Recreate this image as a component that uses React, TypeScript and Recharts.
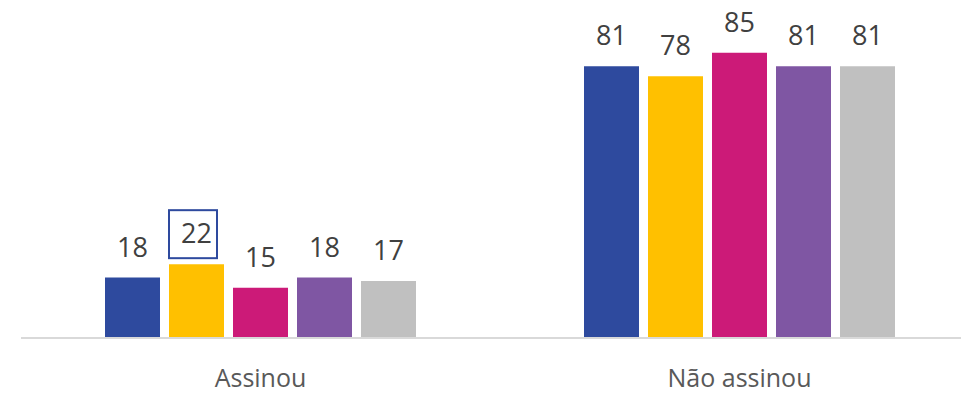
import { BarChart, Bar, XAxis, YAxis, LabelList } from 'recharts';

const categories = ['Assinou', 'Não assinou'];
const serie1 = [18, 81];
const serie2 = [22, 78];
const serie3 = [15, 85];
const serie4 = [18, 81];
const serie5 = [17, 81];

const seriesKeys = ['s1', 's2', 's3', 's4', 's5'];
const seriesValues = [serie1, serie2, serie3, serie4, serie5];
const colors = ['#2E4A9E', '#FFC000', '#CC1A78', '#7F56A3', '#C0C0C0'];

// label that gets the blue box around it
const highlight = { key: 's2', index: 0 };

const data = categories.map((name, i) => {
  const row: Record<string, string | number> = { name };
  seriesKeys.forEach((k, j) => { row[k] = seriesValues[j][i]; });
  return row;
});

const FONT = '"Open Sans", "Noto Sans", sans-serif';

function makeLabel(key: string) {
  return (props: any) => {
    const { x, y, width, value, index } = props;
    const cx = Number(x) + Number(width) / 2;
    const top = Number(y);
    const boxed = key === highlight.key && index === highlight.index;
    return (
      <g>
        {boxed && (
          <rect x={Number(x)} y={top - 54} width={48} height={48}
            fill="none" stroke="#2E4A9E" strokeWidth={2} />
        )}
        <text x={cx} y={top - 21} textAnchor="middle" fill="#404040"
          fontSize={27} fontFamily={FONT}>
          {value}
        </text>
      </g>
    );
  };
}

const CategoryTick = (props: any) => {
  const { x, y, payload } = props;
  return (
    <text x={x} y={Number(y) + 49} textAnchor="middle" fill="#595959"
      fontSize={25} fontFamily={FONT}>
      {payload.value}
    </text>
  );
};

export default function App() {
  return (
    <div style={{ position: 'absolute', left: 0, top: 0, width: 961, height: 394, overflow: 'hidden', background: '#fff' }}>
      <BarChart width={980} height={394} data={data}
        margin={{ top: 36, right: 1, left: 21, bottom: 0 }}
        barSize={55} barGap={9}>
        <XAxis dataKey="name" height={56} tickLine={false} tickSize={0} tickMargin={0}
          axisLine={{ stroke: '#D9D9D9', strokeWidth: 2 }} tick={<CategoryTick />} />
        <YAxis hide domain={[0, 90]} />
        {seriesKeys.map((k, j) => (
          <Bar key={k} dataKey={k} fill={colors[j]} isAnimationActive={false}>
            <LabelList dataKey={k} content={makeLabel(k)} />
          </Bar>
        ))}
      </BarChart>
    </div>
  );
}
